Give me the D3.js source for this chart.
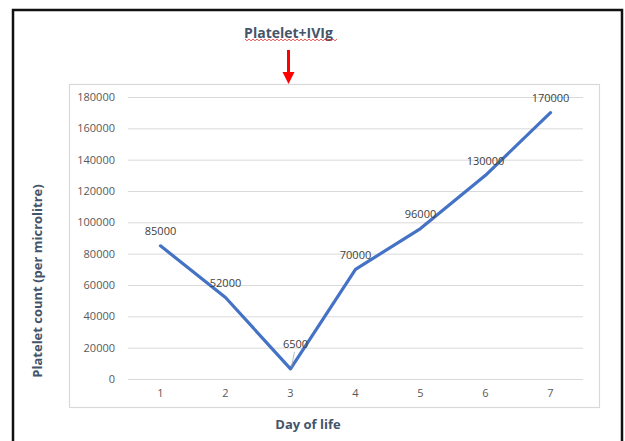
<!DOCTYPE html>
<html>
<head>
<meta charset="utf-8">
<script src="https://cdn.jsdelivr.net/npm/d3@7"></script>
<style>
  html, body { margin: 0; padding: 0; background: #fff; }
  svg { display: block; }
  text { font-family: "Open Sans", sans-serif; }
</style>
</head>
<body>
<svg id="chart" width="625" height="441"></svg>
<script>
// Platelet count by day of life
const days = ["1", "2", "3", "4", "5", "6", "7"];
const plateletCounts = [85000, 52000, 6500, 70000, 96000, 130000, 170000];
const yTicks = [0, 20000, 40000, 60000, 80000, 100000, 120000, 140000, 160000, 180000];
const annotationText = "Platelet+IVIg";
const annotationDay = "3";

const svg = d3.select("#chart");

// outer frame
svg.append("rect")
  .attr("x", 13).attr("y", 10).attr("width", 609).attr("height", 450)
  .attr("fill", "#fff").attr("stroke", "#111").attr("stroke-width", 2.5);

// chart area box
svg.append("rect")
  .attr("x", 69.5).attr("y", 84.5).attr("width", 530).attr("height", 323)
  .attr("fill", "none").attr("stroke", "#d9d9d9").attr("stroke-width", 1.2);

const plot = { left: 128, right: 583, top: 97, bottom: 379 };

const x = d3.scaleBand().domain(days).range([plot.left, plot.right]);
const y = d3.scaleLinear().domain([0, 180000]).range([plot.bottom, plot.top]);

// horizontal gridlines + y tick labels
const yAxis = d3.axisLeft(y).tickValues(yTicks).tickSize(-(plot.right - plot.left)).tickPadding(13)
  .tickFormat(d3.format("d"));
const gy = svg.append("g").attr("transform", `translate(${plot.left},0)`).call(yAxis);
gy.select(".domain").remove();
gy.selectAll(".tick line").attr("stroke", "#d9d9d9").attr("stroke-width", 1);
gy.selectAll(".tick text").attr("fill", "#595959").style("font-size", "11px");

// x tick labels
const xAxis = d3.axisBottom(x).tickSize(0).tickPadding(10);
const gx = svg.append("g").attr("transform", `translate(0,${plot.bottom})`).call(xAxis);
gx.select(".domain").remove();
gx.selectAll(".tick text").attr("fill", "#595959").style("font-size", "11px");

const cx = d => x(d) + x.bandwidth() / 2;

// data line
const pts = days.map((d, i) => ({ day: d, v: plateletCounts[i] }));
svg.append("path")
  .datum(pts)
  .attr("fill", "none")
  .attr("stroke", "#4472c4")
  .attr("stroke-width", 3.2)
  .attr("stroke-linejoin", "round")
  .attr("stroke-linecap", "round")
  .attr("d", d3.line().x(p => cx(p.day)).y(p => y(p.v)));

// data labels (the low value is lifted above the trough with a leader line)
const labelOffset = { "3": { dx: 5, dy: -25 } };
pts.forEach(p => {
  const off = labelOffset[p.day] || { dx: 0, dy: -15 };
  const lx = cx(p.day) + off.dx, ly = y(p.v) + off.dy;
  if (labelOffset[p.day]) {
    svg.append("line")
      .attr("x1", lx - 1).attr("y1", ly + 8)
      .attr("x2", cx(p.day) + 1).attr("y2", y(p.v) - 2)
      .attr("stroke", "#a6a6a6").attr("stroke-width", 0.8);
  }
  svg.append("text")
    .attr("x", lx).attr("y", ly)
    .attr("text-anchor", "middle").attr("dominant-baseline", "central")
    .attr("fill", "#404040").style("font-size", "11px")
    .text(d3.format("d")(p.v));
});

// annotation: label with spell-check style wavy underline and a red arrow
const ax = cx(annotationDay) - 2;
svg.append("text")
  .attr("x", ax).attr("y", 32)
  .attr("text-anchor", "middle").attr("dominant-baseline", "central")
  .attr("fill", "#44546a").style("font-size", "14px").style("font-weight", "bold")
  .text(annotationText);

const wave = [];
for (let i = 0; i <= 46; i++) wave.push([245 + i * 2, 39 + (i % 2 === 0 ? 0 : 1.8)]);
svg.append("path")
  .attr("d", d3.line()(wave))
  .attr("fill", "none").attr("stroke", "#e03030").attr("stroke-width", 0.8);

svg.append("line")
  .attr("x1", ax).attr("y1", 50)
  .attr("x2", ax).attr("y2", 73)
  .attr("stroke", "#ff0000").attr("stroke-width", 3);
svg.append("path")
  .attr("d", d3.line()([[ax - 6, 72], [ax + 6, 72], [ax, 84]]))
  .attr("fill", "#ff0000");

// axis titles
svg.append("text")
  .attr("x", 308).attr("y", 424)
  .attr("text-anchor", "middle").attr("dominant-baseline", "central")
  .attr("fill", "#44546a").style("font-size", "13px").style("font-weight", "bold")
  .text("Day of life");

svg.append("text")
  .attr("transform", "translate(37,281) rotate(-90)")
  .attr("text-anchor", "middle").attr("dominant-baseline", "central")
  .attr("fill", "#44546a").style("font-size", "13px").style("font-weight", "bold")
  .text("Platelet count (per microlitre)");
</script>
</body>
</html>
